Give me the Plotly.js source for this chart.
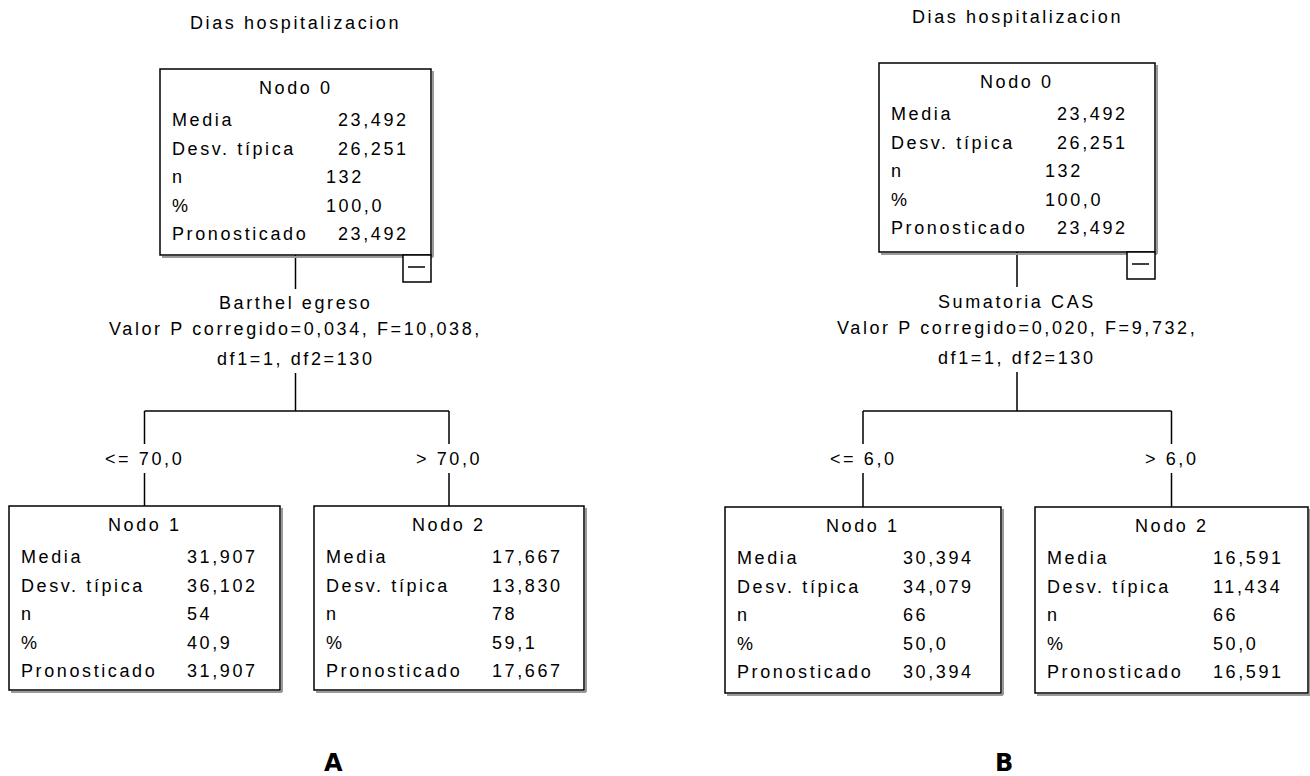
<!DOCTYPE html>
<html>
<head>
<meta charset="utf-8">
<script src="https://cdn.plot.ly/plotly-3.0.1.min.js"></script>
<style>
  html, body { margin: 0; padding: 0; background: #ffffff; }
  #chart { width: 1310px; height: 776px; }
  .annotation-text { letter-spacing: 2.6px; }
</style>
</head>
<body>
<div id="chart"></div>
<script>
// ---------------- data ----------------
const panelLetters = ['A', 'B'];
const targetName = 'Dias hospitalizacion';
const splitVariables = ['Barthel egreso', 'Sumatoria CAS'];
const splitPValues = [0.034, 0.020];
const splitF = [10.038, 9.732];
const splitDf = ['df1=1, df2=130', 'df1=1, df2=130'];
const branchLabelsA = ['<= 70,0', '> 70,0'];
const branchLabelsB = ['<= 6,0', '> 6,0'];
const nodeNames = ['Nodo 0', 'Nodo 1', 'Nodo 2'];
const statLabels = ['Media', 'Desv. típica', 'n', '%', 'Pronosticado'];
// panel A : nodes 0,1,2
const mediaA = [23.492, 31.907, 17.667];
const desvA = [26.251, 36.102, 13.830];
const nA = [132, 54, 78];
const pctA = [100.0, 40.9, 59.1];
const predA = [23.492, 31.907, 17.667];
// panel B : nodes 0,1,2
const mediaB = [23.492, 30.394, 16.591];
const desvB = [26.251, 34.079, 11.434];
const nB = [132, 66, 66];
const pctB = [100.0, 50.0, 50.0];
const predB = [23.492, 30.394, 16.591];

// ---------------- helpers ----------------
const fmt = (v, d) => v.toFixed(d).replace('.', ',');

// ---------------- geometry (layout only) ----------------
const geom = [
  { root: {x0:160, x1:431, y0:69, y1:255}, kids: [{x0:9, x1:280, y0:506, y1:690}, {x0:314, x1:584, y0:506, y1:690}],
    titleY: 23, splitY: [303, 329, 359], stem1: 289, stem2: 373, barY: 411, labY: 459, gap1: 444, gap2: 473, letterX: 334 },
  { root: {x0:879, x1:1155, y0:63, y1:252}, kids: [{x0:725, x1:1001, y0:507, y1:693}, {x0:1035, x1:1308, y0:507, y1:693}],
    titleY: 17, splitY: [302, 328, 358], stem1: 287, stem2: 372, barY: 411, labY: 459, gap1: 444, gap2: 473, letterX: 1005 }
];

const FONT = { family: 'Liberation Sans, Arial, sans-serif', size: 18, color: '#000000' };
const LINE = { color: '#000000', width: 1.5 };
const SHADOW = { color: '#9a9a9a', width: 2 };

const shapes = [];
const annotations = [];

function line(x0, y0, x1, y1, style) {
  shapes.push({ type: 'line', xref: 'x', yref: 'y', x0, y0, x1, y1, line: style || LINE });
}
function text(x, y, t, anchor, font) {
  annotations.push({ xref: 'x', yref: 'y', x, y, text: t, showarrow: false,
    xanchor: anchor || 'center', yanchor: 'middle', font: font || FONT, borderpad: 0, borderwidth: 0 });
}

function drawNode(box, name, values, isRoot) {
  // shadow
  line(box.x0 + 2, box.y1 + 2, box.x1 + 2, box.y1 + 2, SHADOW);
  line(box.x1 + 2, box.y0 + 2, box.x1 + 2, box.y1 + 2, SHADOW);
  shapes.push({ type: 'rect', xref: 'x', yref: 'y', x0: box.x0, y0: box.y0, x1: box.x1, y1: box.y1,
    line: LINE, fillcolor: '#ffffff' });
  const cx = (box.x0 + box.x1) / 2;
  text(cx, box.y0 + 19, name, 'center');
  const valX = box.x0 + (isRoot ? 166 : 178);
  const wideShift = isRoot ? [12, 12, 0, 0, 12] : [0, 0, 0, 0, 0];
  for (let i = 0; i < statLabels.length; i++) {
    const y = box.y0 + 51 + i * 28.5;
    text(box.x0 + 12, y, statLabels[i], 'left');
    text(valX + wideShift[i], y, values[i], 'left');
  }
  if (isRoot) {
    // collapse toggle
    shapes.push({ type: 'rect', xref: 'x', yref: 'y', x0: box.x1 - 28, y0: box.y1, x1: box.x1, y1: box.y1 + 27,
      line: LINE, fillcolor: '#ffffff' });
    line(box.x1 - 23, box.y1 + 12, box.x1 - 6, box.y1 + 12, { color: '#000', width: 1.5 });
  }
}

const panelData = [
  { media: mediaA, desv: desvA, n: nA, pct: pctA, pred: predA, branches: branchLabelsA },
  { media: mediaB, desv: desvB, n: nB, pct: pctB, pred: predB, branches: branchLabelsB }
];

panelLetters.forEach((letter, p) => {
  const g = geom[p];
  const d = panelData[p];
  const rcx = (g.root.x0 + g.root.x1) / 2;
  // title
  text(rcx, g.titleY, targetName, 'center');
  // connectors
  line(rcx, g.root.y1, rcx, g.stem1);
  line(rcx, g.stem2, rcx, g.barY);
  const kcx = g.kids.map(k => (k.x0 + k.x1) / 2);
  line(kcx[0], g.barY, kcx[1], g.barY);
  kcx.forEach((x, k) => {
    line(x, g.barY, x, g.gap1);
    line(x, g.gap2, x, g.kids[k].y0);
    text(x, g.labY, d.branches[k], 'center');
  });
  // split text
  text(rcx, g.splitY[0], splitVariables[p], 'center');
  text(rcx, g.splitY[1], 'Valor P corregido=' + fmt(splitPValues[p], 3) + ', F=' + fmt(splitF[p], 3) + ',', 'center');
  text(rcx, g.splitY[2], splitDf[p], 'center');
  // nodes
  const nodeVals = i => [fmt(d.media[i], 3), fmt(d.desv[i], 3), String(d.n[i]), fmt(d.pct[i], 1), fmt(d.pred[i], 3)];
  drawNode(g.root, nodeNames[0], nodeVals(0), true);
  drawNode(g.kids[0], nodeNames[1], nodeVals(1), false);
  drawNode(g.kids[1], nodeNames[2], nodeVals(2), false);
  // panel letter
  text(g.letterX, 763, letter, 'center', { family: 'DejaVu Sans, Verdana, sans-serif', size: 24, color: '#000', weight: 'bold' });
});

const layout = {
  width: 1310, height: 776,
  margin: { l: 0, r: 0, t: 0, b: 0 },
  paper_bgcolor: '#ffffff', plot_bgcolor: '#ffffff',
  showlegend: false,
  xaxis: { range: [0, 1310], visible: false, fixedrange: true },
  yaxis: { range: [776, 0], visible: false, fixedrange: true },
  shapes, annotations
};

Plotly.newPlot('chart', [], layout, { staticPlot: true, displayModeBar: false });
</script>
</body>
</html>
